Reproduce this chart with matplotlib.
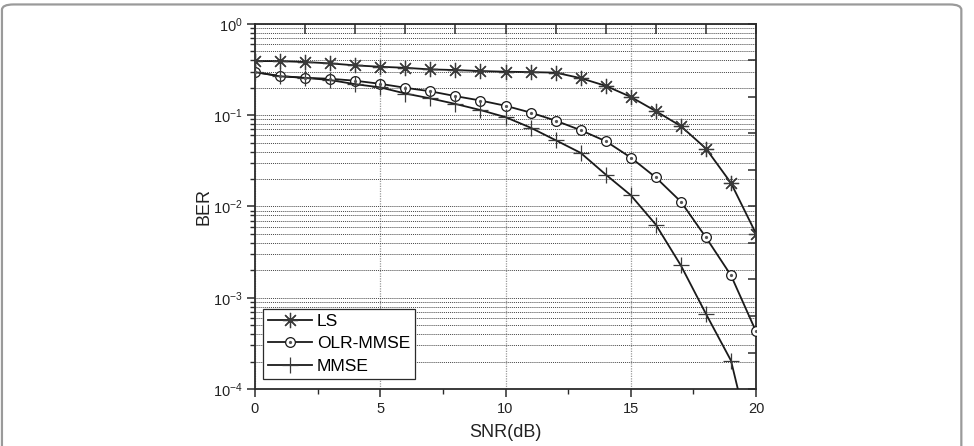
import matplotlib
matplotlib.use("Agg")
import matplotlib.pyplot as plt
from matplotlib.patches import FancyBboxPatch
from matplotlib.ticker import MultipleLocator, LogLocator, NullFormatter, FixedLocator

plt.rcParams["font.family"] = ["Liberation Sans", "DejaVu Sans"]
plt.rcParams["mathtext.fontset"] = "custom"
plt.rcParams["mathtext.rm"] = "Liberation Sans"
plt.rcParams["mathtext.it"] = "Liberation Sans"

# ── Data ──────────────────────────────────────────────────────────────────────
snr = list(range(21))
ber_ls = [0.392, 0.392, 0.383, 0.370, 0.352, 0.340, 0.331, 0.318, 0.313, 0.305,
          0.300, 0.297, 0.293, 0.255, 0.210, 0.159, 0.111, 0.076, 0.0432,
          0.0181, 0.00504]
ber_olr = [0.297, 0.269, 0.257, 0.251, 0.239, 0.221, 0.200, 0.183, 0.162,
           0.145, 0.127, 0.107, 0.0873, 0.0686, 0.0520, 0.0344, 0.0208,
           0.0113, 0.00459, 0.00176, 0.000427]
ber_mmse = [0.297, 0.267, 0.257, 0.243, 0.219, 0.202, 0.173, 0.153, 0.133,
            0.114, 0.0953, 0.0731, 0.0533, 0.0387, 0.0224, 0.0133, 0.00633,
            0.00226, 0.000667, 0.000205, 1.5e-5]
labels = ["LS", "OLR-MMSE", "MMSE"]

C_LINE = "#1a1a1a"
C_MARK = "#3a3a3a"
C_AXIS = "#2b2b2b"

fig = plt.figure(figsize=(9.74, 4.46), dpi=100)
fig.patch.set_facecolor("white")

# rounded grey frame round the picture (runs off the bottom edge)
frame = FancyBboxPatch((0.002, -0.2), 0.985, 1.19,
                       boxstyle="round,pad=0,rounding_size=0.012",
                       transform=fig.transFigure, facecolor="none",
                       edgecolor="#9a9a9a", linewidth=1.6, clip_on=False)
fig.patches.append(frame)

ax = fig.add_axes([0.2618, 0.1278, 0.5144, 0.8184])
ax.set_yscale("log")
ax.set_xlim(0, 20)
ax.set_ylim(1e-4, 1)

# ── Grid ──────────────────────────────────────────────────────────────────────
ax.yaxis.set_major_locator(LogLocator(base=10, numticks=10))
ax.yaxis.set_minor_locator(LogLocator(base=10, subs=range(2, 10), numticks=20))
ax.yaxis.set_minor_formatter(NullFormatter())
ax.xaxis.set_major_locator(MultipleLocator(5))
ax.xaxis.set_minor_locator(MultipleLocator(2.5))
ax.grid(True, which="both", axis="y", linestyle=(0, (1, 1)),
        color="#444444", linewidth=0.7)
ax.grid(True, which="major", axis="x", linestyle=(0, (1, 1)),
        color="#9a9a9a", linewidth=0.9)
ax.set_axisbelow(True)

# ── Curves ────────────────────────────────────────────────────────────────────
l_ls, = ax.plot(snr, ber_ls, color=C_LINE, lw=1.3, marker=(8, 2, 0),
                ms=11, mec=C_MARK, mew=0.9, zorder=3)
l_olr, = ax.plot(snr, ber_olr, color=C_LINE, lw=1.3, marker="o", ms=7,
                 mfc="white", mec=C_LINE, mew=0.9, zorder=3)
d_olr, = ax.plot(snr, ber_olr, ls="none", marker="o", ms=1.3,
                 color="#555555", zorder=4)
l_mmse, = ax.plot(snr, ber_mmse, color=C_LINE, lw=1.3, marker="+", ms=12,
                  mec=C_MARK, mew=0.9, zorder=3)

leg = ax.legend([l_ls, (l_olr, d_olr), l_mmse], labels, loc="lower left",
                bbox_to_anchor=(8 / 501, 10 / 365), borderaxespad=0,
                fontsize=12.5, handlelength=2.5, handletextpad=0.3,
                labelspacing=0.42, borderpad=0.3, fancybox=False,
                framealpha=1, edgecolor=C_AXIS)
leg.get_frame().set_linewidth(0.9)
leg.set_zorder(5)

# ── Axes styling ──────────────────────────────────────────────────────────────
for sp in ax.spines.values():
    sp.set_color(C_AXIS)
    sp.set_linewidth(1.3)
ax.tick_params(which="major", direction="out", length=6, width=1.1,
               color=C_AXIS, labelsize=10.5, labelcolor="#222222", pad=3,
               top=False, right=False)
ax.tick_params(which="minor", direction="out", length=3.5, width=1.0,
               color=C_AXIS, top=False, right=False)
ax.set_xlabel("SNR(dB)", fontsize=13, color="#222222", labelpad=6)
ax.set_ylabel("BER", fontsize=13, color="#222222", labelpad=0)

# top axis: short inward ticks every 2 dB
axt = ax.twiny()
axt.set_xlim(ax.get_xlim())
axt.xaxis.set_major_locator(FixedLocator(range(0, 21, 2)))
axt.tick_params(axis="x", direction="in", length=7, width=1.1, color=C_AXIS,
                labeltop=False)
# right axis: ten evenly spaced inward ticks
axr = ax.twinx()
axr.set_ylim(0, 10)
axr.yaxis.set_major_locator(MultipleLocator(1))
axr.tick_params(axis="y", direction="in", length=6, width=1.1, color=C_AXIS,
                labelright=False)
for a in (axt, axr):
    for sp in a.spines.values():
        sp.set_visible(False)

fig.savefig("out.png", dpi=100, facecolor=fig.get_facecolor())
